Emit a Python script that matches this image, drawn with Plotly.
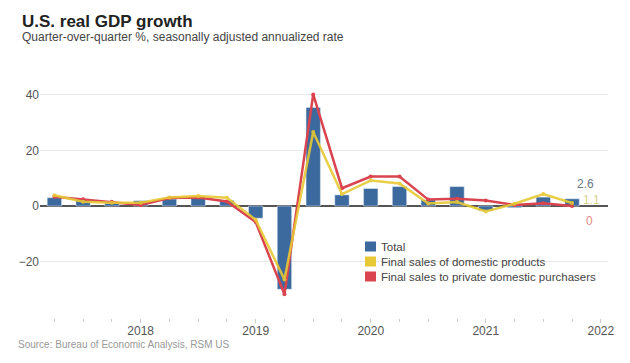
import plotly.graph_objects as go

quarters = ["2017Q2", "2017Q3", "2017Q4", "2018Q1", "2018Q2", "2018Q3", "2018Q4",
            "2019Q1", "2019Q2", "2019Q3", "2019Q4", "2020Q1", "2020Q2", "2020Q3",
            "2020Q4", "2021Q1", "2021Q2", "2021Q3", "2021Q4"]
total = [3.0, 2.5, 1.0, 1.9, 2.5, 3.1, 2.0, -4.4, -30.0, 35.5, 4.0, 6.3, 7.0, 2.2, 7.0, -1.6, -0.6, 3.2, 2.6]
final_domestic = [3.9, 1.5, 1.2, 1.2, 3.1, 3.6, 3.0, -5.0, -26.5, 26.7, 4.3, 9.2, 8.1, 0.9, 1.4, -2.0, 0.8, 4.3, 1.1]
final_private = [3.3, 2.4, 1.5, 0.4, 2.9, 3.1, 1.6, -5.8, -31.8, 40.2, 6.4, 10.6, 10.6, 2.3, 2.6, 2.0, 0.4, 1.0, 0.0]
year_ticks = ["2018", "2019", "2020", "2021", "2022"]
series_names = ["Total", "Final sales of domestic products", "Final sales to private domestic purchasers"]

BLUE = "#3d6a9e"
YELLOW = "#e7c935"
RED = "#d9444f"
colors = [BLUE, YELLOW, RED]

x = list(range(len(quarters)))
tickvals = [i for i, q in enumerate(quarters) if q.endswith("Q1")]
tickvals.append(len(quarters))  # next year's Q1

# plot area in window pixels (page body has an 8px margin)
PL, PT, PR, PB = 40, 84, 608, 318
def px(xw):
    return (xw - PL) / (PR - PL)
def py(yw):
    return (PB - yw) / (PB - PT)

fig = go.Figure()
fig.add_trace(go.Bar(x=x, y=total, marker_color=BLUE, width=0.5, name=series_names[0]))
fig.add_trace(go.Scatter(x=x, y=final_private, mode="lines+markers",
                         line=dict(color=RED, width=2.5), marker=dict(size=4, color=RED),
                         name=series_names[2]))
fig.add_trace(go.Scatter(x=x, y=final_domestic, mode="lines+markers",
                         line=dict(color=YELLOW, width=2.5), marker=dict(size=4, color=YELLOW),
                         opacity=0.9, name=series_names[1]))

annos = []
shapes = []
for txt, xw, yw, size, col in [
        ("<b>U.S. real GDP growth</b>", 20, 21, 17, "#222"),
        ("Quarter-over-quarter %, seasonally adjusted annualized rate", 20, 37, 12, "#444"),
        ("Source: Bureau of Economic Analysis, RSM US", 16, 344, 10, "#999")]:
    annos.append(dict(text=txt, xref="paper", yref="paper", x=px(xw), y=py(yw),
                      xanchor="left", yanchor="middle", showarrow=False,
                      font=dict(size=size, color=col)))
# legend (squares + labels)
for i, (nm, c) in enumerate(zip(series_names, colors)):
    yc = 246.5 + i * 15
    shapes.append(dict(type="rect", xref="paper", yref="paper",
                       x0=px(365), x1=px(376), y0=py(yc - 5), y1=py(yc + 5),
                       fillcolor=c, line=dict(width=0)))
    annos.append(dict(text=nm, xref="paper", yref="paper", x=px(379), y=py(yc),
                      xanchor="left", yanchor="middle", showarrow=False,
                      font=dict(size=11.5, color="#444")))
# end labels
for txt, xw, yw, col in [(str(total[-1]), 585, 184, "#6b7785"),
                         (str(final_domestic[-1]), 591, 199.5, "#d6d48e"),
                         ("0", 589, 221, "#e88a8a")]:
    annos.append(dict(text=txt, xref="paper", yref="paper", x=px(xw), y=py(yw),
                      xanchor="center", yanchor="middle", showarrow=False,
                      font=dict(size=12, color=col)))

W, H = 622, 347
fig.update_layout(
    width=W, height=H,
    margin=dict(l=PL - 8, r=W - (PR - 8), t=PT - 8, b=H - (PB - 8), pad=0),
    paper_bgcolor="white", plot_bgcolor="white",
    font=dict(family="Liberation Sans, Arial, sans-serif", size=12, color="#555"),
    barmode="overlay", showlegend=False,
    annotations=annos, shapes=shapes,
    xaxis=dict(range=[-0.5, 19.25], tickmode="array", tickvals=tickvals, ticktext=year_ticks,
               showgrid=False, zeroline=False, showline=False, ticks="outside", ticklen=4,
               tickcolor="#ccc", tickfont=dict(size=12, color="#555"), automargin=False,
               ticklabelstandoff=-2,
               minor=dict(tickmode="linear", tick0=0, dtick=1, ticks="outside", ticklen=3,
                          tickcolor="#ccc", showgrid=False)),
    yaxis=dict(range=[-40.36, 43.96], tickvals=[-20, 0, 20, 40], showgrid=True,
               gridcolor="#e8e8e8", zeroline=True, zerolinecolor="#555", zerolinewidth=1.5,
               tickfont=dict(size=12, color="#555"), ticks="", automargin=False),
)

fig.write_html("out.html")
